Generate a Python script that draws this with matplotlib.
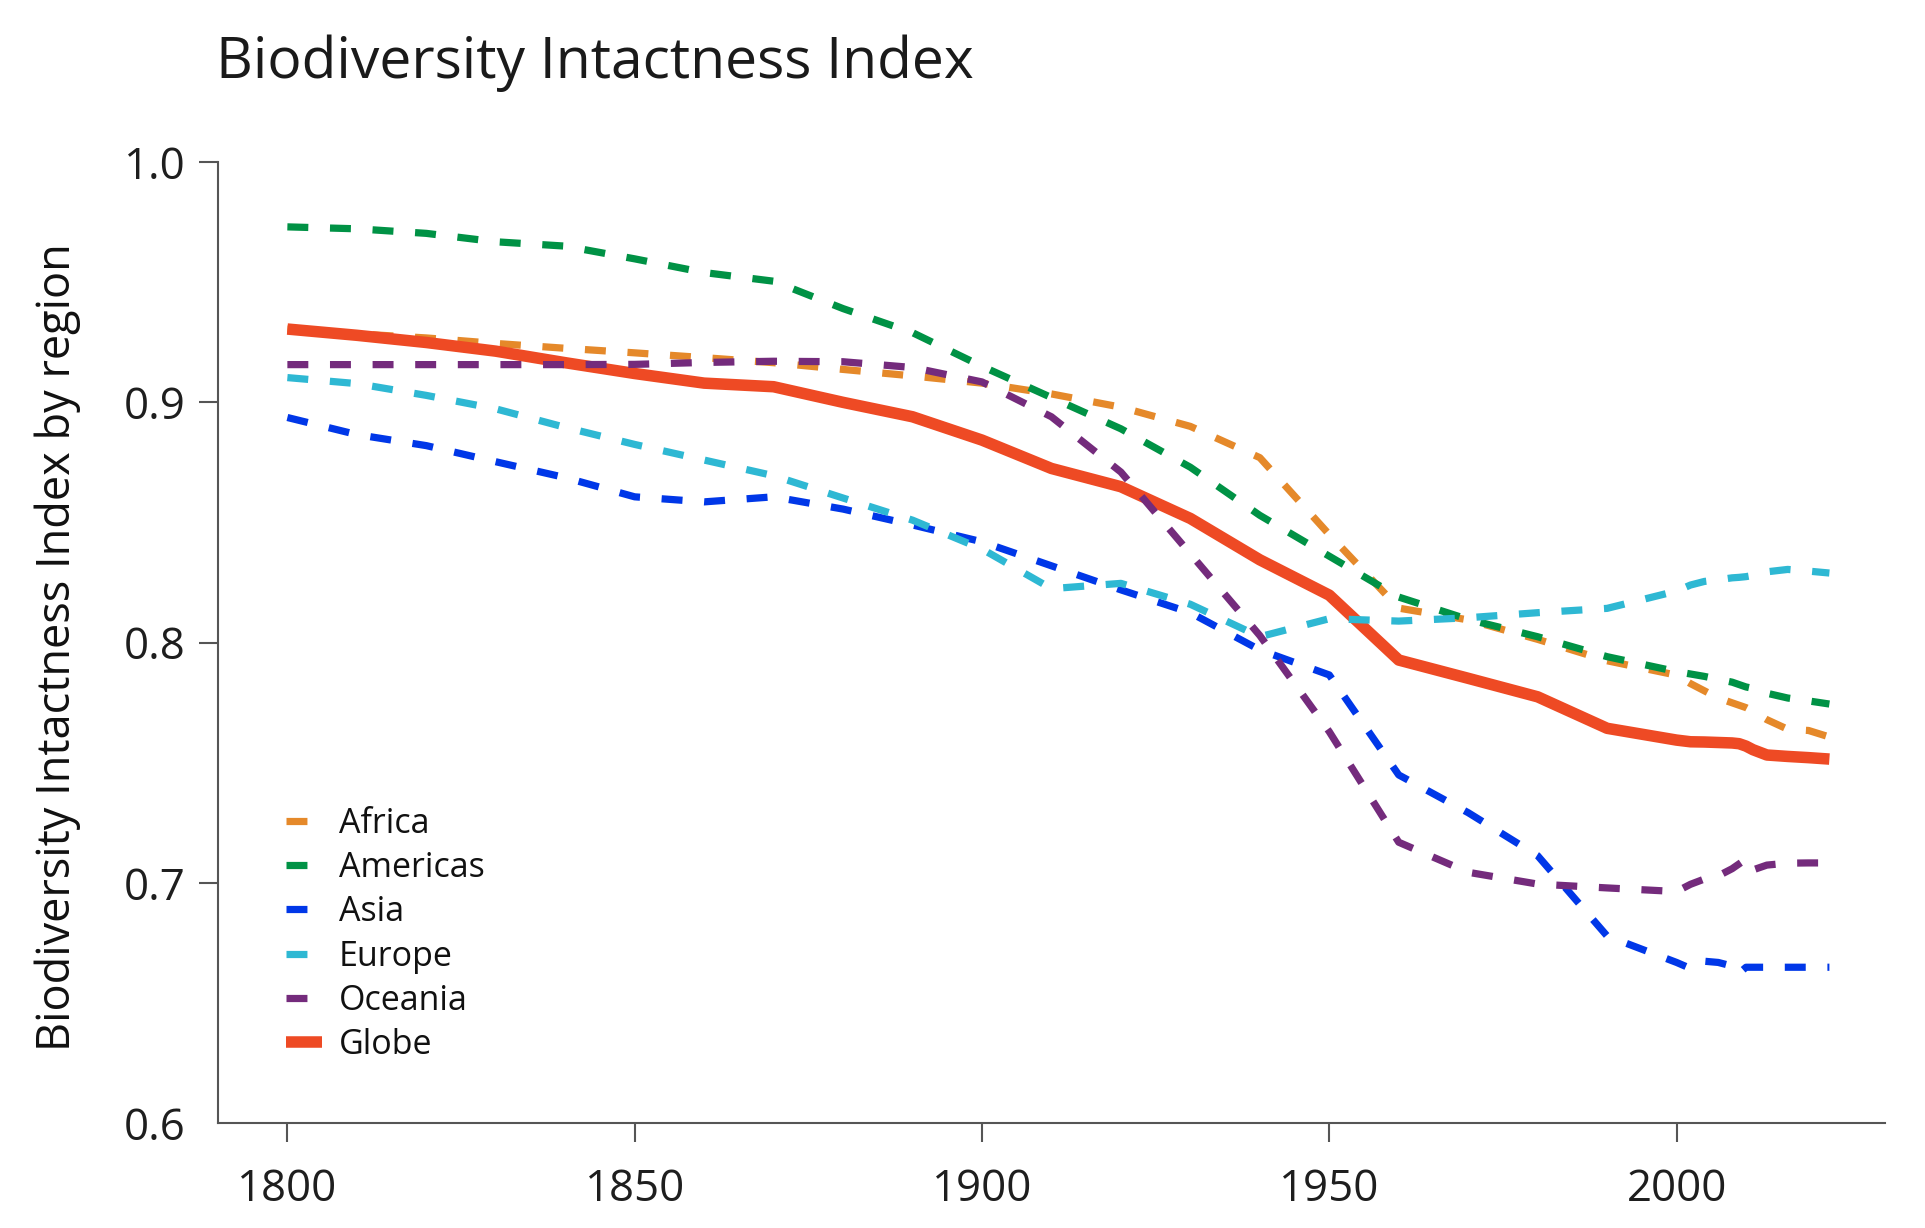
import numpy as np
import matplotlib
matplotlib.use("Agg")
import matplotlib.pyplot as plt

plt.rcParams['font.family'] = ['Open Sans', 'DejaVu Sans']

# years: decades to 2000, then a few recent years
years = [1800, 1810, 1820, 1830, 1840, 1850, 1860, 1870, 1880, 1890, 1900,
         1910, 1920, 1930, 1940, 1950, 1960, 1970, 1980, 1990, 2000,
         2002, 2004, 2006, 2008, 2009, 2010, 2011, 2013, 2016, 2019, 2022]

africa = [0.9305, 0.9285, 0.9268, 0.9245, 0.9225, 0.9206, 0.9186, 0.9165, 0.9137, 0.9110, 0.9080,
          0.9035, 0.8980, 0.8900, 0.8770, 0.8450, 0.8144, 0.8095, 0.8014, 0.7925, 0.7865,
          0.7830, 0.7800, 0.7770, 0.7750, 0.7740, 0.7730, 0.7715, 0.7680, 0.7640, 0.7635, 0.7608]
americas = [0.9730, 0.9722, 0.9703, 0.9668, 0.9650, 0.9597, 0.9540, 0.9504, 0.9390, 0.9290, 0.9150,
            0.9020, 0.8890, 0.8730, 0.8530, 0.8360, 0.8190, 0.8097, 0.8025, 0.7942, 0.7880,
            0.7870, 0.7860, 0.7848, 0.7836, 0.7826, 0.7816, 0.7810, 0.7790, 0.7770, 0.7758, 0.7745]
asia = [0.8937, 0.8866, 0.8820, 0.8753, 0.8687, 0.8607, 0.8586, 0.8607, 0.8556, 0.8490, 0.8420,
        0.8320, 0.8220, 0.8125, 0.7970, 0.7866, 0.7450, 0.7293, 0.7114, 0.6780, 0.6670,
        0.6645, 0.6675, 0.6670, 0.6655, 0.6625, 0.6650, 0.6650, 0.6650, 0.6650, 0.6650, 0.6650]
europe = [0.9103, 0.9078, 0.9029, 0.8973, 0.8896, 0.8825, 0.8760, 0.8695, 0.8602, 0.8510, 0.8390,
          0.8225, 0.8247, 0.8160, 0.8025, 0.8100, 0.8090, 0.8104, 0.8125, 0.8143, 0.8215,
          0.8240, 0.8255, 0.8262, 0.8270, 0.8272, 0.8275, 0.8280, 0.8295, 0.8305, 0.8298, 0.8290]
oceania = [0.9157, 0.9157, 0.9157, 0.9157, 0.9157, 0.9158, 0.9166, 0.9171, 0.9169, 0.9145, 0.9085,
           0.8940, 0.8710, 0.8370, 0.8030, 0.7630, 0.7170, 0.7045, 0.6996, 0.6980, 0.6965,
           0.6995, 0.7017, 0.7030, 0.7060, 0.7080, 0.7100, 0.7055, 0.7075, 0.7083, 0.7084, 0.7084]
globe = [0.9305, 0.9279, 0.9249, 0.9213, 0.9165, 0.9120, 0.9080, 0.9065, 0.9000, 0.8940, 0.8843,
         0.8725, 0.8649, 0.8517, 0.8345, 0.8198, 0.7928, 0.7852, 0.7775, 0.7644, 0.7595,
         0.7588, 0.7587, 0.7585, 0.7583, 0.7580, 0.7570, 0.7555, 0.7533, 0.7527, 0.7522, 0.7516]

regions = ['Africa', 'Americas', 'Asia', 'Europe', 'Oceania']
region_vals = [africa, americas, asia, europe, oceania]
colors = ['#E5892A', '#009245', '#0037E8', '#2EB8D3', '#742B7C']
globe_color = '#EE4A24'

fig = plt.figure(figsize=(19.25, 12.28), dpi=100)
ax = fig.add_axes([0.1132, 0.0851, 0.8660, 0.7830])

for name, vals, c in zip(regions, region_vals, colors):
    ln, = ax.plot(years, vals, color=c, lw=5.2, label=name,
                  zorder=2 if name == 'Africa' else 4)
    ln.set_dashes((2.9, 3.0))
    ln.set_dash_capstyle('butt')
ax.plot(years, globe, color=globe_color, lw=8.3, label='Globe', zorder=3,
        solid_capstyle='butt')

ax.set_xlim(1790, 2030)
ax.set_ylim(0.6, 1.0)
ax.set_xticks([1800, 1850, 1900, 1950, 2000])
ax.set_yticks([0.6, 0.7, 0.8, 0.9, 1.0])
ax.set_yticklabels(['0.6', '0.7', '0.8', '0.9', '1.0'])

for s in ['top', 'right']:
    ax.spines[s].set_visible(False)
for s in ['left', 'bottom']:
    ax.spines[s].set_linewidth(1.5)
    ax.spines[s].set_color('#555555')
ax.tick_params(axis='both', direction='out', length=13.5, width=1.5,
               color='#555555', labelsize=31.5, labelcolor='#1e1e1e')
ax.tick_params(axis='y', pad=10)
ax.tick_params(axis='x', pad=18)
ax.yaxis.get_major_ticks()[0].tick1line.set_visible(False)

leg = ax.legend(loc='lower left', bbox_to_anchor=(0.041, 0.064), frameon=False,
                fontsize=24.5, handlelength=1.05, handletextpad=0.5,
                labelspacing=0.3, borderpad=0, borderaxespad=0)
for t in leg.get_texts():
    t.set_color('#111111')

fig.text(0.1122, 0.9365, 'Biodiversity Intactness Index', fontsize=41,
         color='#1a1a1a', ha='left', va='baseline')
fig.text(0.030, 0.473, 'Biodiversity Intactness Index by region', fontsize=32.5,
         color='#111111', rotation=90, ha='center', va='center')

fig.savefig('out.png', dpi=100)
